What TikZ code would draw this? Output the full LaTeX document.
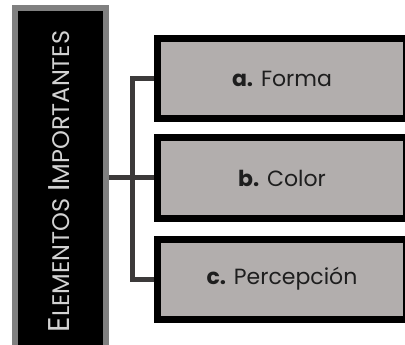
\documentclass[tikz,border=0pt]{standalone}
\usepackage{fontspec}
\setmainfont{Poppins}
\definecolor{boxfill}{HTML}{B2AEAD}
\definecolor{linkgray}{HTML}{3C3A3A}
\definecolor{framegray}{HTML}{808080}
\definecolor{titlegray}{HTML}{D2D2D2}
\definecolor{labelink}{HTML}{1E1E1E}
\newcommand{\capbig}[1]{{\fontsize{30}{30}\selectfont #1}}
\newcommand{\capsmall}[1]{{\fontsize{24}{24}\selectfont #1}}
\begin{document}
\begin{tikzpicture}[x=1pt,y=-1pt,
  item/.style={draw=black, fill=boxfill, line width=7pt, rectangle,
    minimum width=249pt, minimum height=80pt, inner sep=0pt,
    font=\fontsize{22}{22}\selectfont, text=labelink},
  title/.style={draw=framegray, fill=black, line width=6pt, rectangle,
    minimum width=91pt, minimum height=360pt, inner sep=0pt},
  link/.style={draw=linkgray, line width=5pt}]
\useasboundingbox (0,0) rectangle (405,345);
\begin{scope}
\clip (0,0) rectangle (405,345);
% left title column
\node[title] (t) at (60.5,188) {};
\node[rotate=90, text=titlegray, inner sep=0pt] (tt) at (59,181.5)
  {\capbig{E}\capsmall{LEMENTOS\hspace{7pt}}\capbig{I}\capsmall{MPORTANTES}};
% items
\node[item] (a) at (282,78.5) {\textbf{a.} Forma};
\node[item] (b) at (282,178) {\textbf{b.} Color};
\node[item] (c) at (282,279) {\textbf{c.} Percepción};
% connectors
\draw[link] (t.east |- b.west) -- (b.west);
\draw[link] (a.west) -- ++(-22,0) coordinate (top) |- (c.west);
\end{scope}
\end{tikzpicture}
\end{document}
